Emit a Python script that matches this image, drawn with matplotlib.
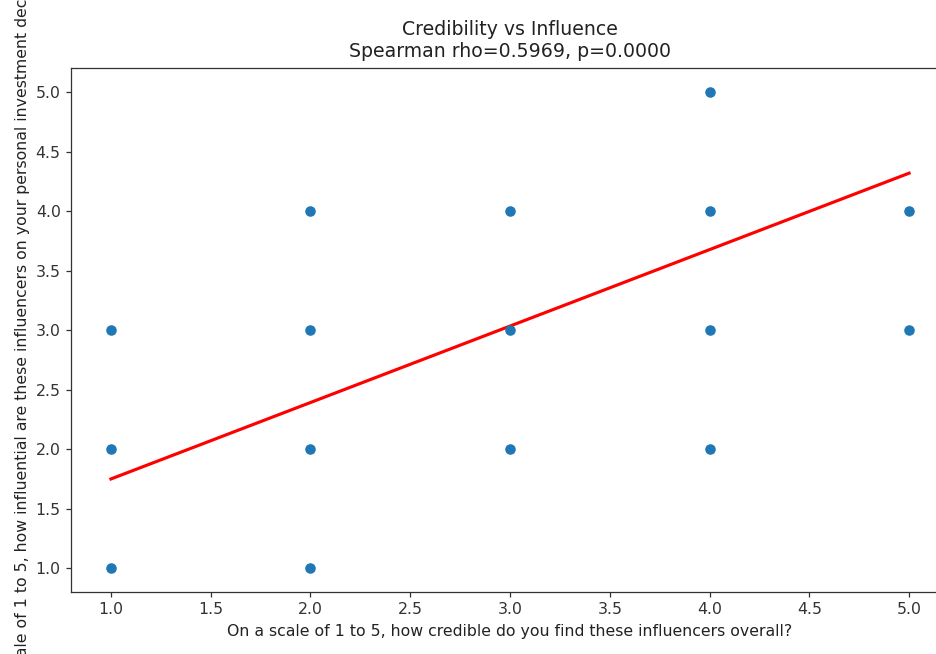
import matplotlib.pyplot as plt
import numpy as np

# credibility (x) vs influence (y) answers, 1-5 scale
credibility = [1, 1, 1, 2, 2, 2, 2, 3, 3, 3, 4, 4, 4, 4, 5, 5]
influence = [1, 2, 3, 1, 2, 3, 4, 2, 3, 4, 2, 3, 4, 5, 3, 4]

# fitted line
slope = 0.6425
intercept = 1.1075

rho = 0.5969
pval = 0.0000

xlabel = "On a scale of 1 to 5, how credible do you find these influencers overall?"
ylabel = "On a scale of 1 to 5, how influential are these influencers on your personal investment decisions?"

k = 1.13  # the reference looks scaled up a bit
fig = plt.figure(figsize=(9.37, 6.54), dpi=100)
ax = fig.add_axes([0.0758, 0.0948, 0.937, 0.8005])

ax.scatter(credibility, influence, s=34 * k * k, color="#1f77b4", zorder=3)

xs = np.array([min(credibility), max(credibility)])
ax.plot(xs, intercept + slope * xs, color="red", linewidth=2 * k)

ax.set_xlim(0.8, 5.2)
ax.set_ylim(0.8, 5.2)
ax.set_xticks(np.arange(1.0, 5.01, 0.5))
ax.set_yticks(np.arange(1.0, 5.01, 0.5))
ax.tick_params(labelsize=10 * k, length=3.5 * k, width=0.8 * k, colors="#333333")
for s in ax.spines.values():
    s.set_linewidth(0.8 * k)
    s.set_color("#333333")

ax.set_title("Credibility vs Influence\nSpearman rho=%.4f, p=%.4f" % (rho, pval),
             fontsize=12 * k, pad=8, color="#222222")
ax.set_xlabel(xlabel, fontsize=10 * k, labelpad=5, color="#222222")
ax.set_ylabel(ylabel, fontsize=10 * k, color="#222222")

fig.savefig("out.png", dpi=100)
